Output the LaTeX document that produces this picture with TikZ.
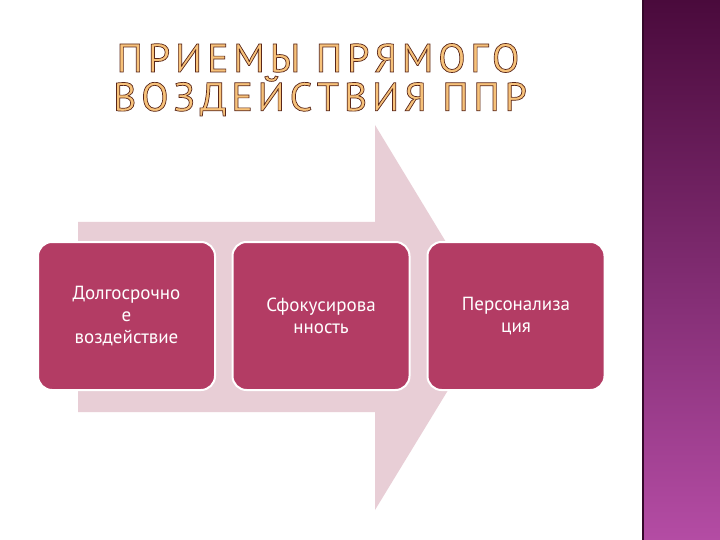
\documentclass[tikz,border=0pt]{standalone}
\usepackage{fontspec}
\setmainfont{PT Sans}
\usetikzlibrary{shapes.misc}
\definecolor{boxc}{HTML}{B33C64}
\definecolor{arr}{HTML}{E8CED6}
\definecolor{ttl}{HTML}{F7C27A}
\definecolor{barA}{HTML}{4A0A3C}
\definecolor{barB}{HTML}{B44CA4}
\newcommand{\outl}[1]{\special{pdf:literal direct 2 Tr 0.7 w 0.35 0.15 0.1 RG}#1\special{pdf:literal direct 0 Tr}}
\tikzset{
  stepbox/.style={draw=white, line width=2pt, fill=boxc, rounded corners=14pt, minimum width=177pt, minimum height=148pt, text=white, align=center, font=\fontsize{19}{22}\selectfont, inner sep=2pt},
  ttlstyle/.style={text=ttl, font=\fontsize{40}{44}\selectfont\addfontfeatures{LetterSpace=12}}
}
\begin{document}
\begin{tikzpicture}[x=1pt,y=-1pt]
\useasboundingbox (0,0) rectangle (720,540);
\fill[white] (0,0) rectangle (720,540);
\shade[top color=barA, bottom color=barB] (643,0) rectangle (720,540);
\draw[barA!70!black, line width=1.5pt] (643,0) -- (643,540);
\fill[arr] (78,222) -- (375,222) -- (375,125) -- (492,318) -- (375,510) -- (375,412) -- (78,412) -- cycle;
\node[ttlstyle] (t1) at (318,58) {\outl{ПРИЕМЫ ПРЯМОГО}};
\node[ttlstyle] (t2) at (320,96) {\outl{ВОЗДЕЙСТВИЯ ППР}};
\node[stepbox] (b1) at (126.5,316) {Долгосрочно\\е\\воздействие};
\node[stepbox] (b2) at (321,316) {Сфокусирова\\нность};
\node[stepbox] (b3) at (516,316) {Персонализа\\ция};
\end{tikzpicture}
\end{document}
